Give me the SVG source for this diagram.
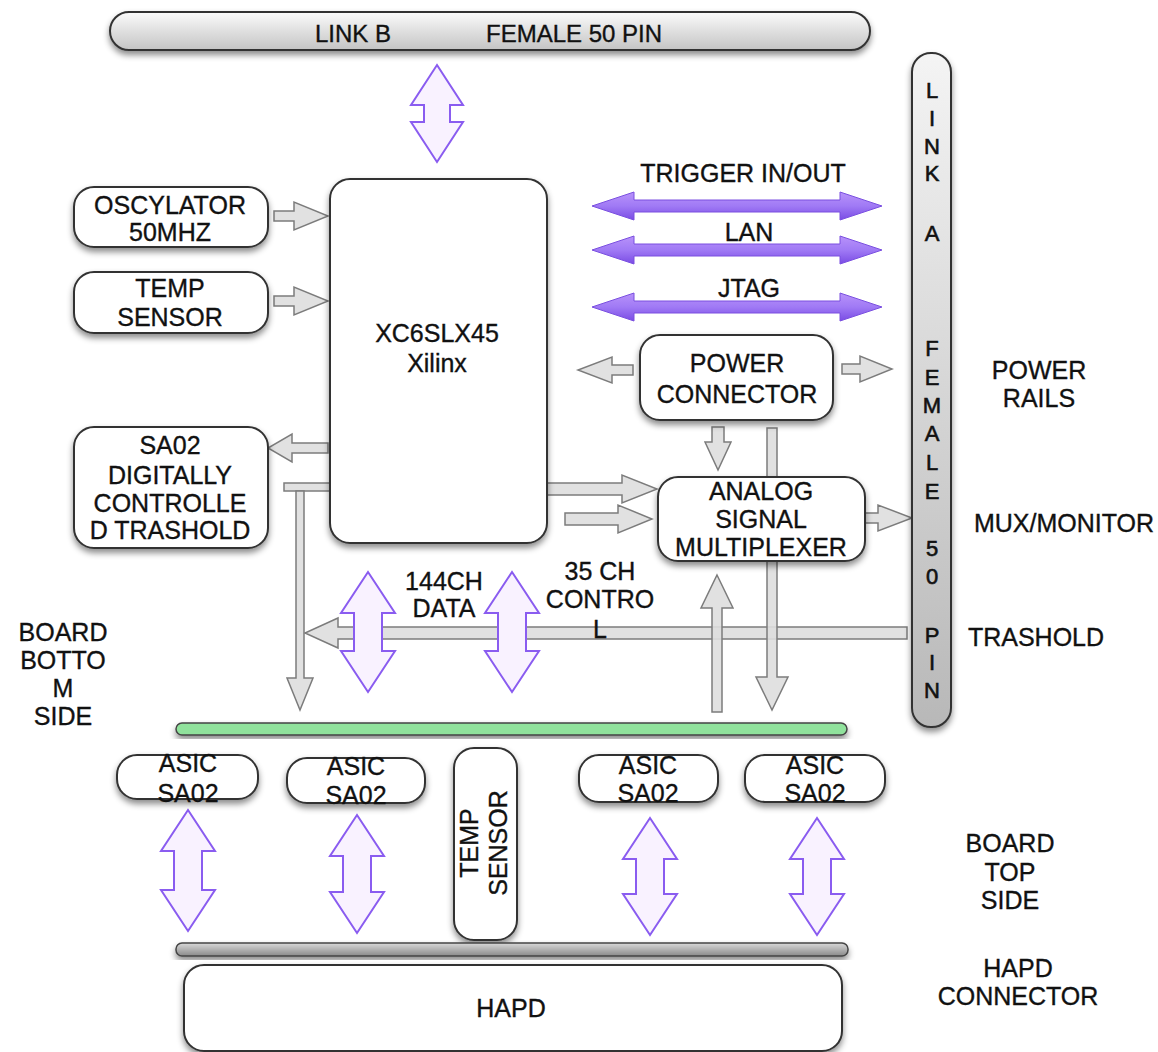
<svg xmlns="http://www.w3.org/2000/svg" width="1158" height="1052" viewBox="0 0 1158 1052">
<defs>
<filter id="sh" x="-20%" y="-20%" width="140%" height="150%">
<feDropShadow dx="0" dy="4" stdDeviation="3" flood-color="#000" flood-opacity="0.45"/>
</filter>
<linearGradient id="barB" x1="0" y1="0" x2="0" y2="1">
<stop offset="0" stop-color="#fbfbfb"/><stop offset="1" stop-color="#c4c4c4"/>
</linearGradient>
<linearGradient id="barA" x1="0" y1="0" x2="0" y2="1">
<stop offset="0" stop-color="#f4f4f4"/><stop offset="1" stop-color="#b8b8b8"/>
</linearGradient>
<linearGradient id="gbar" x1="0" y1="0" x2="0" y2="1">
<stop offset="0" stop-color="#d8d8d8"/><stop offset="1" stop-color="#8a8a8a"/>
</linearGradient>
<linearGradient id="pg" x1="0" y1="0" x2="0" y2="1">
<stop offset="0" stop-color="#b892fa"/><stop offset="0.5" stop-color="#a07af5"/><stop offset="1" stop-color="#7a4ce4"/>
</linearGradient>
<style>
.box{fill:#fff;stroke:#333;stroke-width:2;filter:url(#sh)}
.t{font-family:"Liberation Sans",Arial,sans-serif;font-size:25px;fill:#111;stroke:#111;stroke-width:0.35;text-anchor:middle;dominant-baseline:central}
.s{font-size:24px}
.la{font-size:22px;stroke-width:0.6}
.g{fill:#dedede;stroke:#7c7c7c;stroke-width:1.5;fill-opacity:0.9}
.pv{fill:#f9f2ff;stroke:#8a5cf0;stroke-width:2}
.ph{fill:url(#pg);stroke:#7a4fe0;stroke-width:1}
</style>
</defs>
<rect width="1158" height="1052" fill="#fff"/>

<g id="connectors">
<polygon class="g" points="907,627 338,627 338,618 305,633 338,648 338,639 907,639"/>
<polygon class="g" points="274,211 294,211 294,202 328,216 294,230 294,221 274,221"/>
<polygon class="g" points="274,296 294,296 294,287 328,301 294,315 294,306 274,306"/>
<polygon class="g" points="328,443 292,443 292,434 268,448 292,462 292,453 328,453"/>
<rect class="g" x="284" y="483" width="46" height="8"/>
<polygon class="g" points="296,491 304,491 304,678 313,678 300,710 287,678 296,678"/>
<polygon class="g" points="547,483 622,483 622,475 657,489 622,503 622,495 547,495"/>
<polygon class="g" points="565,513 618,513 618,505 652,519 618,533 618,525 565,525"/>
<polygon class="g" points="633,365 612,365 612,357 578,370 612,383 612,375 633,375"/>
<polygon class="g" points="842,364 860,364 860,356 892,369 860,382 860,374 842,374"/>
<polygon class="g" points="712,427 724,427 724,442 731,442 718,470 705,442 712,442"/>
<polygon class="g" points="858,513 878,513 878,505 912,518 878,531 878,523 858,523"/>
<polygon class="g" points="767,428 777,428 777,677 788,677 772,710 756,677 767,677"/>
<polygon class="g" points="717,575 733,608 722,608 722,712 712,712 712,608 701,608"/>
<polygon class="ph" points="592,206 634,192 634,200 840,200 840,192 882,206 840,220 840,212 634,212 634,220"/>
<polygon class="ph" points="592,250 634,236 634,244 840,244 840,236 882,250 840,264 840,256 634,256 634,264"/>
<polygon class="ph" points="592,307 634,293 634,301 840,301 840,293 882,307 840,321 840,313 634,313 634,321"/>
<polygon class="pv" points="437,65 463,105 450,105 450,122 463,122 437,162 411,122 424,122 424,105 411,105"/>
<polygon class="pv" points="368,572 395,613 382,613 382,651 395,651 368,692 341,651 354,651 354,613 341,613"/>
<polygon class="pv" points="512,572 539,613 526,613 526,651 539,651 512,692 485,651 498,651 498,613 485,613"/>
<polygon class="pv" points="188,810 215,851 202,851 202,890 215,890 188,931 161,890 174,890 174,851 161,851"/>
<polygon class="pv" points="357,815 384,856 371,856 371,892 384,892 357,933 330,892 343,892 343,856 330,856"/>
<polygon class="pv" points="650,818 677,859 664,859 664,894 677,894 650,935 623,894 636,894 636,859 623,859"/>
<polygon class="pv" points="817,818 844,859 831,859 831,894 844,894 817,935 790,894 803,894 803,859 790,859"/>
</g>

<g id="linkB">
<rect x="110" y="12" width="760" height="38" rx="19" fill="url(#barB)" stroke="#333" stroke-width="2" filter="url(#sh)"/>
<text class="t s" x="353" y="33">LINK B</text>
<text class="t s" x="574" y="33">FEMALE 50 PIN</text>
</g>

<g id="linkA">
<rect x="912" y="53" width="39" height="674" rx="19" fill="url(#barA)" stroke="#333" stroke-width="2" filter="url(#sh)"/>
<text class="t la" x="932" y="90">L</text>
<text class="t la" x="932" y="118">I</text>
<text class="t la" x="932" y="146">N</text>
<text class="t la" x="932" y="173">K</text>
<text class="t la" x="932" y="233">A</text>
<text class="t la" x="932" y="348">F</text>
<text class="t la" x="932" y="377">E</text>
<text class="t la" x="932" y="405">M</text>
<text class="t la" x="932" y="433">A</text>
<text class="t la" x="932" y="462">L</text>
<text class="t la" x="932" y="491">E</text>
<text class="t la" x="932" y="548">5</text>
<text class="t la" x="932" y="576">0</text>
<text class="t la" x="932" y="635">P</text>
<text class="t la" x="932" y="662">I</text>
<text class="t la" x="932" y="690">N</text>
</g>

<g id="fpga">
<rect class="box" x="330" y="179" width="217" height="364" rx="20"/>
<text class="t" x="437" y="333">XC6SLX45</text>
<text class="t" x="437" y="363">Xilinx</text>
</g>

<g id="oscylator">
<rect class="box" x="74" y="187" width="194" height="60" rx="20"/>
<text class="t" x="170" y="205">OSCYLATOR</text>
<text class="t" x="170" y="232">50MHZ</text>
</g>

<g id="tempSensorTop">
<rect class="box" x="74" y="272" width="194" height="61" rx="20"/>
<text class="t" x="170" y="288">TEMP</text>
<text class="t" x="170" y="317">SENSOR</text>
</g>

<g id="sa02dct">
<rect class="box" x="74" y="427" width="194" height="121" rx="20"/>
<text class="t" x="170" y="445">SA02</text>
<text class="t" x="170" y="475">DIGITALLY</text>
<text class="t" x="170" y="503">CONTROLLE</text>
<text class="t" x="170" y="530">D TRASHOLD</text>
</g>

<g id="powerConnector">
<rect class="box" x="640" y="335" width="193" height="85" rx="20"/>
<text class="t" x="737" y="363">POWER</text>
<text class="t" x="737" y="394">CONNECTOR</text>
</g>

<g id="analogMux">
<rect class="box" x="658" y="477" width="207" height="84" rx="20"/>
<text class="t" x="761" y="491">ANALOG</text>
<text class="t" x="761" y="519">SIGNAL</text>
<text class="t" x="761" y="547">MULTIPLEXER</text>
</g>

<g id="greenBar">
<rect x="176" y="723" width="671" height="12" rx="6" fill="#90e29c" stroke="#444" stroke-width="1.5" filter="url(#sh)"/>
</g>

<g id="asic1">
<rect class="box" x="117" y="755" width="141" height="44" rx="20"/>
<text class="t" x="188" y="763">ASIC</text>
<text class="t" x="188" y="793">SA02</text>
</g>
<g id="asic2">
<rect class="box" x="287" y="758" width="138" height="45" rx="20"/>
<text class="t" x="356" y="766">ASIC</text>
<text class="t" x="356" y="795">SA02</text>
</g>
<g id="tempSensorBottom">
<rect class="box" x="454" y="748" width="63" height="192" rx="20"/>
<text class="t" x="469" y="843" transform="rotate(-90 469 843)">TEMP</text>
<text class="t" x="498" y="843" transform="rotate(-90 498 843)">SENSOR</text>
</g>
<g id="asic3">
<rect class="box" x="579" y="755" width="139" height="47" rx="20"/>
<text class="t" x="648" y="765">ASIC</text>
<text class="t" x="648" y="793">SA02</text>
</g>
<g id="asic4">
<rect class="box" x="745" y="755" width="140" height="47" rx="20"/>
<text class="t" x="815" y="765">ASIC</text>
<text class="t" x="815" y="793">SA02</text>
</g>

<g id="grayBar">
<rect x="176" y="943" width="672" height="13" rx="6" fill="url(#gbar)" stroke="#444" stroke-width="1.5" filter="url(#sh)"/>
</g>

<g id="hapd">
<rect class="box" x="184" y="965" width="658" height="86" rx="20"/>
<text class="t" x="511" y="1008">HAPD</text>
</g>

<g id="labels">
<text class="t" x="743" y="173">TRIGGER IN/OUT</text>
<text class="t" x="749" y="232">LAN</text>
<text class="t" x="749" y="288">JTAG</text>
<text class="t" x="1039" y="370">POWER</text>
<text class="t" x="1039" y="398">RAILS</text>
<text class="t" x="1064" y="523">MUX/MONITOR</text>
<text class="t" x="1036" y="637">TRASHOLD</text>
<text class="t" x="444" y="581">144CH</text>
<text class="t" x="444" y="608">DATA</text>
<text class="t" x="600" y="571">35 CH</text>
<text class="t" x="600" y="599">CONTRO</text>
<text class="t" x="600" y="629">L</text>
<text class="t" x="63" y="632">BOARD</text>
<text class="t" x="63" y="660">BOTTO</text>
<text class="t" x="63" y="688">M</text>
<text class="t" x="63" y="716">SIDE</text>
<text class="t" x="1010" y="843">BOARD</text>
<text class="t" x="1010" y="872">TOP</text>
<text class="t" x="1010" y="900">SIDE</text>
<text class="t" x="1018" y="968">HAPD</text>
<text class="t" x="1018" y="996">CONNECTOR</text>
</g>
</svg>
